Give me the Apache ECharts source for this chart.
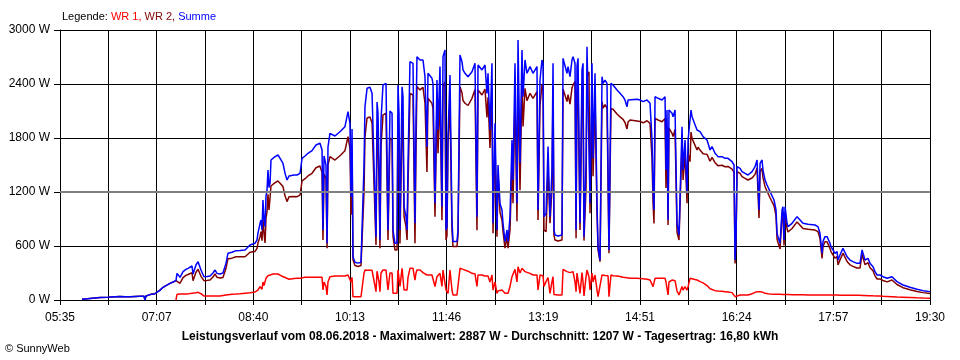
<!DOCTYPE html>
<html><head><meta charset="utf-8">
<script src="https://cdn.jsdelivr.net/npm/echarts@6/dist/echarts.min.js"></script>
<style>html,body{margin:0;padding:0;background:#fff}#c{width:960px;height:360px}</style>
</head><body><div id="c"></div>
<script>
// Tick labels of the time axis (every second grid line is labelled)
const xTickLabels = ['05:35','07:07','08:40','10:13','11:46','13:19','14:51','16:24','17:57','19:30'];
// minutes between 05:35 and 19:30
const spanMinutes = 835;
const yLabelsW = [0, 600, 1200, 1800, 2400, 3000];

// sample times, minutes after 05:35
const minutesFrom0535 = [
21.1,28.8,38.4,46.1,52.8,57.6,62.4,67.2,72.0,76.8,
80.6,81.6,82.5,86.4,91.2,93.1,96.0,98.9,101.7,105.6,
108.5,111.3,112.3,115.2,118.1,120.9,122.9,124.8,126.7,127.7,
130.5,132.5,135.3,138.2,141.1,144.0,146.8,148.8,150.7,153.6,
156.4,159.3,161.2,165.1,168.9,172.8,177.6,182.4,187.2,189.1,
190.0,192.0,192.9,193.9,194.8,195.8,196.8,197.7,198.7,199.6,
200.6,201.6,202.5,204.4,206.4,209.2,212.1,214.0,216.0,217.9,
219.8,221.7,224.6,227.5,230.4,232.3,235.2,238.0,241.9,245.7,
249.5,251.5,252.4,253.4,255.3,256.3,257.2,259.1,263.9,268.7,
273.5,276.4,278.3,279.3,280.3,281.2,283.1,286.0,288.9,290.8,
291.8,292.7,294.7,297.5,299.5,301.4,303.3,304.3,305.2,306.2,
307.1,308.1,310.0,312.9,314.8,316.7,318.7,319.6,321.5,323.5,
324.4,325.4,326.3,328.3,329.2,330.2,332.1,333.1,334.0,335.9,
338.8,340.7,341.7,342.6,345.5,348.4,350.3,352.2,353.2,357.0,
358.0,359.9,361.8,362.8,364.7,366.6,367.6,369.5,370.5,371.4,
372.4,374.3,376.2,377.2,379.1,381.0,382.0,383.9,385.8,386.8,
388.7,391.6,395.4,398.3,400.2,401.2,405.0,407.9,409.8,410.8,
412.7,414.6,415.6,417.5,419.4,420.4,422.3,424.2,425.2,427.1,
429.0,430.0,431.9,433.8,434.8,436.7,438.6,439.6,441.5,443.4,
444.4,446.3,448.2,451.1,454.0,457.8,458.8,460.7,462.6,463.6,
464.5,466.5,468.4,470.3,472.2,473.2,474.1,475.1,478.0,481.8,
482.8,484.7,486.6,487.6,489.5,491.4,492.4,494.3,495.3,496.2,
497.2,499.1,501.0,502.0,502.9,504.9,505.8,507.7,508.7,510.6,
511.6,513.5,515.4,516.4,518.3,520.2,521.2,523.1,525.0,526.0,
526.9,528.8,530.8,534.6,537.5,540.4,542.3,544.2,545.2,547.1,
553.8,556.7,559.6,563.4,566.3,568.2,569.2,570.1,571.1,574.0,
577.8,580.7,581.6,582.6,583.6,584.5,587.4,588.4,590.3,592.2,
594.1,595.1,597.0,598.0,599.9,601.8,602.8,604.7,605.6,606.6,
608.5,611.4,612.4,614.3,617.2,621.0,623.9,625.8,628.7,631.5,
635.4,638.3,641.1,645.0,646.9,647.9,648.8,649.8,652.7,654.6,
657.5,660.3,664.2,667.1,669.0,669.9,670.9,671.9,673.8,674.7,
676.7,678.6,679.5,681.5,683.4,685.3,687.2,688.2,689.1,691.1,
693.0,693.9,694.9,695.9,697.8,698.7,702.6,707.4,710.3,713.1,
717.9,724.6,727.5,729.4,731.4,732.3,734.2,736.2,737.1,739.0,
740.0,741.9,743.8,745.8,746.7,748.6,751.5,753.4,755.4,758.2,
761.1,764.9,767.8,769.8,770.7,772.6,775.5,777.4,780.3,782.2,
784.2,787.0,789.9,793.8,798.5,799.5,803.3,809.1,815.8,822.5,828.3,835.0
];

// Summe (W)
const summe = [
8,17,28,30,35,38,35,37,40,42,
42,0,45,60,70,90,110,141,160,185,
200,215,296,252,315,340,352,370,378,289,
389,426,333,259,262,267,300,333,296,289,
300,407,519,530,548,550,556,611,630,667,
744,852,889,780,1111,900,815,1150,1222,1444,
1250,1300,1556,1574,1593,1611,1556,1519,1407,1333,
1378,1389,1389,1389,1407,1574,1600,1630,1660,1722,
1741,1667,778,1600,1500,630,1700,1852,1822,1870,
1926,2093,1963,1148,1900,481,420,410,420,440,
1500,2148,2352,2363,2296,2315,703,2200,2074,1500,
667,2000,2389,2407,778,2100,2074,778,630,630,
2389,2074,778,2370,2259,1037,926,778,1500,2648,
2630,852,2000,2704,2667,2667,2481,1700,2519,2463,
2407,1074,2444,1889,2593,1037,2704,2778,778,815,
1815,2500,889,650,640,650,778,2722,2648,2556,
2519,2481,2537,2630,926,2611,2556,2611,2296,2519,
1889,2630,852,1963,778,1500,1074,1000,852,650,
778,650,926,1778,1333,2630,1074,2889,1519,2778,
2259,2667,2519,2593,2519,2593,1000,2444,2667,2630,
926,963,1704,926,1444,2630,778,722,711,722,
2685,2667,2519,2593,2481,2667,2704,2630,778,2600,
2685,852,2556,2630,704,1519,2815,2796,1074,2630,
1574,2519,1074,593,444,2481,2407,2444,2407,2400,
556,2407,2389,2333,2296,2259,2222,2148,2222,2241,
2230,2222,2204,2222,2185,1778,1222,1000,2259,2241,
2222,2259,1444,2111,889,2111,2074,2037,2111,852,
722,740,1926,1444,1778,1185,1778,1778,2111,2037,
2019,1889,1907,1870,1815,1778,1667,1704,1630,1593,
1593,1574,1574,1537,1500,444,667,1481,1463,1426,
1407,1389,1426,1481,1556,1537,1000,1519,1556,1444,
1333,1278,1259,1204,1204,1111,1000,741,704,630,
1000,1037,667,1037,852,815,852,926,889,852,
841,833,815,741,519,650,704,704,685,630,
593,556,519,537,444,500,574,556,481,444,
426,407,407,556,537,444,463,407,370,315,
278,278,259,241,259,241,204,167,141,119,104,93
];

// WR 1 (W)
const wr1 = [
null,null,null,null,null,null,null,null,null,null,
null,null,null,null,null,null,null,null,null,null,
null,0,63,66,66,66,68,70,75,75,
80,85,70,44,44,44,44,44,44,44,
50,55,60,65,67,70,75,80,90,93,
111,148,130,120,200,160,180,241,241,270,
250,278,289,289,289,289,270,259,250,240,
230,235,238,241,241,252,252,252,252,252,
252,252,111,200,150,56,200,259,267,267,
267,278,278,200,250,37,37,37,37,37,
300,333,330,330,330,330,93,320,315,200,
93,300,333,333,111,300,300,74,74,74,
333,333,150,352,350,111,111,111,250,352,
352,222,300,333,333,304,290,278,278,278,
278,150,259,259,296,150,333,352,111,100,
74,333,111,56,56,56,60,352,345,340,
333,320,296,290,150,278,278,267,267,267,
200,278,111,200,74,100,100,111,90,74,
74,74,150,259,259,340,200,370,300,352,
330,315,304,296,278,278,111,278,278,270,
150,204,250,74,204,259,60,56,56,56,
341,330,315,310,304,310,315,200,93,300,
315,74,304,200,44,259,333,259,111,300,
200,278,111,37,19,278,275,272,272,270,
37,278,270,267,262,252,250,248,245,241,
241,238,235,230,222,204,148,150,241,241,
241,241,200,180,56,200,222,222,215,100,
56,70,150,111,148,111,148,241,245,241,
230,222,210,204,190,160,125,119,104,100,
96,93,90,82,80,37,40,56,56,56,
56,56,70,85,90,93,90,93,93,85,
74,70,70,68,66,65,63,63,63,63,
60,60,60,60,60,60,58,58,58,58,
56,56,56,56,56,56,56,56,56,56,
55,55,55,55,55,54,54,54,53,53,
52,52,52,50,50,50,48,48,46,46,
45,44,42,40,36,35,32,30,27,24,22,20
];

// WR 2 (W)
const wr2 = [
8,17,28,30,35,38,35,37,40,42,
42,0,45,60,70,90,110,141,160,185,
200,215,233,186,249,274,284,300,303,214,
309,341,263,215,218,223,256,289,252,245,
250,352,459,465,481,480,481,531,540,574,
633,704,759,660,911,740,635,909,981,1174,
1000,1022,1267,1285,1304,1322,1286,1260,1157,1093,
1148,1154,1151,1148,1166,1322,1348,1378,1408,1470,
1489,1415,667,1400,1350,574,1500,1593,1555,1603,
1659,1815,1685,948,1650,444,383,373,383,403,
1200,1815,2022,2033,1966,1985,610,1880,1759,1300,
574,1700,2056,2074,667,1800,1774,704,556,556,
2056,1741,628,2018,1909,926,815,667,1250,2296,
2278,630,1700,2371,2334,2363,2191,1422,2241,2185,
2129,924,2185,1630,2297,887,2371,2426,667,715,
1741,2167,778,594,584,594,718,2370,2303,2216,
2186,2161,2241,2340,776,2333,2278,2344,2029,2252,
1689,2352,741,1763,704,1400,974,889,762,576,
704,576,776,1519,1074,2290,874,2519,1219,2426,
1929,2352,2215,2297,2241,2315,889,2166,2389,2360,
776,759,1454,852,1240,2371,718,666,655,666,
2344,2337,2204,2283,2177,2357,2389,2430,685,2300,
2370,778,2252,2430,660,1260,2482,2537,963,2330,
1374,2241,963,556,425,2203,2132,2172,2135,2130,
519,2129,2119,2066,2034,2007,1972,1900,1977,2000,
1989,1984,1969,1992,1963,1574,1074,850,2018,2000,
1981,2018,1244,1931,833,1911,1852,1815,1896,752,
666,670,1776,1333,1630,1074,1630,1537,1866,1796,
1789,1667,1697,1666,1625,1618,1542,1585,1526,1493,
1497,1481,1484,1455,1420,407,627,1425,1407,1370,
1351,1333,1356,1396,1466,1444,910,1426,1463,1359,
1259,1208,1189,1136,1138,1046,937,678,641,567,
940,977,607,977,792,755,794,868,831,794,
785,777,759,685,463,594,648,648,629,574,
538,501,464,482,389,446,520,502,428,391,
374,355,355,506,487,394,415,359,324,269,
233,234,217,201,223,206,172,137,114,95,82,73
];

const pairs = vals => minutesFrom0535.map((m, i) => [m, vals[i]]);
const step = spanMinutes / 18;
const FONT = '"Liberation Sans", Arial, sans-serif';

const chart = echarts.init(document.getElementById('c'), null, {renderer: 'canvas'});
chart.setOption({
  animation: false,
  backgroundColor: '#ffffff',
  textStyle: {fontFamily: FONT},
  title: [
    {
      text: '{k|Legende: }{r|WR 1, }{d|WR 2, }{b|Summe}',
      left: 62, top: 11, padding: 0,
      textStyle: {
        fontFamily: FONT, fontWeight: 'normal', fontSize: 11,
        rich: {
          k: {color: '#000000', fontSize: 11, fontWeight: 'normal', fontFamily: FONT},
          r: {color: '#ff0000', fontSize: 11, fontWeight: 'normal', fontFamily: FONT},
          d: {color: '#800000', fontSize: 11, fontWeight: 'normal', fontFamily: FONT},
          b: {color: '#0000ff', fontSize: 11, fontWeight: 'normal', fontFamily: FONT}
        }
      }
    },
    {
      text: 'Leistungsverlauf vom 08.06.2018 - Maximalwert: 2887 W - Durchschnitt: 1207 W - Tagesertrag: 16,80 kWh',
      left: 'center', top: 331, padding: 0,
      textStyle: {fontSize: 12, fontWeight: 'bold', color: '#000000', fontFamily: FONT}
    },
    {
      text: '© SunnyWeb',
      left: 5, top: 343, padding: 0,
      textStyle: {fontSize: 11, fontWeight: 'normal', color: '#000000', fontFamily: FONT}
    }
  ],
  grid: {left: 60, right: 30, top: 30, bottom: 60, containLabel: false},
  xAxis: {
    type: 'value', min: 0, max: spanMinutes, interval: step,
    axisLine: {show: true, lineStyle: {color: '#000000', width: 1}},
    axisTick: {show: true, length: 5, lineStyle: {color: '#000000', width: 1}},
    axisLabel: {
      color: '#000000', fontSize: 12, margin: 12, fontFamily: FONT,
      showMinLabel: true, showMaxLabel: true,
      formatter: v => {
        const idx = Math.round(v / step);
        return idx % 2 === 0 ? (xTickLabels[idx / 2] || '') : '';
      }
    },
    splitLine: {show: true, lineStyle: {color: '#000000', width: 1}}
  },
  yAxis: {
    type: 'value', min: yLabelsW[0], max: yLabelsW[yLabelsW.length - 1],
    interval: yLabelsW[1] - yLabelsW[0],
    axisLine: {show: true, lineStyle: {color: '#000000', width: 1}},
    axisTick: {show: true, length: 6, lineStyle: {color: '#000000', width: 1}},
    axisLabel: {color: '#000000', fontSize: 12, margin: 10, fontFamily: FONT, formatter: v => v + ' W'},
    splitLine: {show: true, lineStyle: {color: '#000000', width: 1}}
  },
  series: [
    {
      name: 'WR 1', type: 'line', data: pairs(wr1), showSymbol: false, symbol: 'none',
      connectNulls: false, lineStyle: {color: '#ff0000', width: 1.5}, itemStyle: {color: '#ff0000'},
      markLine: {
        silent: true, symbol: ['none', 'none'], label: {show: false},
        lineStyle: {color: '#808080', width: 2, type: 'solid'},
        data: [{yAxis: yLabelsW[2]}]
      }
    },
    {
      name: 'WR 2', type: 'line', data: pairs(wr2), showSymbol: false, symbol: 'none',
      lineStyle: {color: '#800000', width: 1.5}, itemStyle: {color: '#800000'}
    },
    {
      name: 'Summe', type: 'line', data: pairs(summe), showSymbol: false, symbol: 'none',
      lineStyle: {color: '#0000ff', width: 1.5}, itemStyle: {color: '#0000ff'}
    }
  ]
});
</script>
</body></html>
